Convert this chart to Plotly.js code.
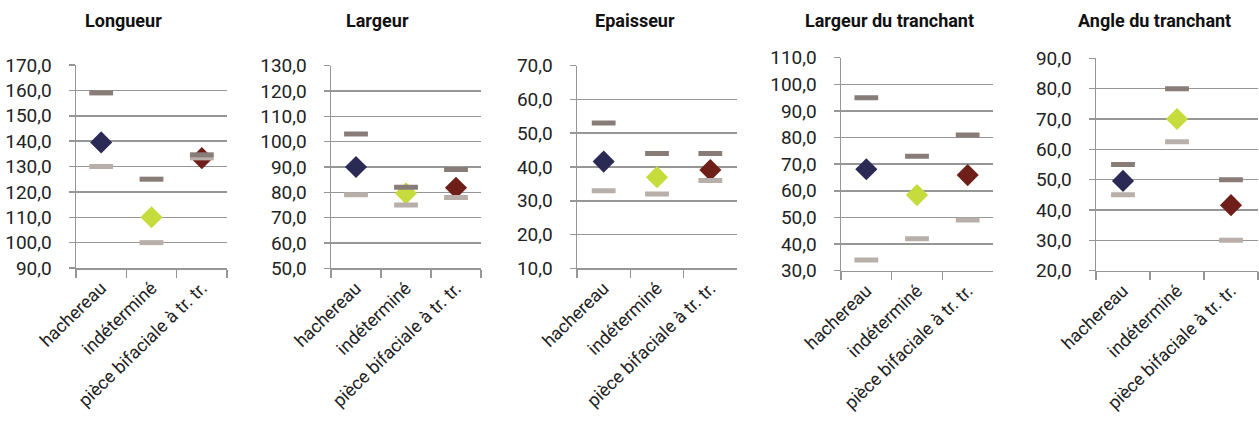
<!DOCTYPE html>
<html>
<head>
<meta charset="utf-8">
<script src="https://cdn.plot.ly/plotly-3.0.1.min.js"></script>
<style>html,body{margin:0;padding:0;background:#fff;}#chart{width:1259px;height:426px;}</style>
</head>
<body>
<div id="chart"></div>
<script>
const categories = ['hachereau', 'indéterminé', 'pièce bifaciale à tr. tr.'];
const panelTitles = ['Longueur', 'Largeur', 'Epaisseur', 'Largeur du tranchant', 'Angle du tranchant'];
const maxVals  = [[159, 125, 134.6], [103, 82, 89], [53, 44, 44], [95, 73, 81], [55, 80, 50]];
const meanVals = [[139.5, 110, 133.3], [90, 79.6, 81.8], [41.6, 37, 39.1], [68.1, 58.4, 65.9], [49.6, 70, 41.6]];
const minVals  = [[130, 100, 133.4], [79, 75, 78], [33, 32, 36], [34, 42, 49], [45, 62.5, 30]];
const yRanges  = [[90, 170], [50, 130], [10, 70], [30, 110], [20, 90]];
const meanColors = ['#2b2a55', '#c5dc3c', '#6e1f1a'];

// layout geometry in pixels
const W = 1259, H = 426;
const xPix = [[76, 227], [331, 481], [577, 737], [841, 993], [1096, 1258]];
const yPix = [[65, 268], [65.7, 268.3], [65.7, 268.3], [57.7, 270.7], [58.3, 270.7]];
const titleX = [123, 377, 635, 889, 1154];

const FONT = 'Roboto, "Liberation Sans", Arial, sans-serif';
const GRID = '#969696';

const data = [];
const layout = {
  width: W, height: H,
  margin: {l: 0, r: 0, t: 0, b: 0},
  paper_bgcolor: '#ffffff', plot_bgcolor: '#ffffff',
  showlegend: false,
  separators: ', ',
  font: {family: FONT, color: '#222222'},
  annotations: []
};

for (let i = 0; i < 5; i++) {
  const s = i === 0 ? '' : String(i + 1);
  const xa = 'x' + s, ya = 'y' + s;
  data.push({
    type: 'scatter', mode: 'markers', x: categories, y: meanVals[i], xaxis: xa, yaxis: ya,
    marker: {symbol: 'diamond', size: 17, color: meanColors, line: {width: 0}},
    hoverinfo: 'y'
  });
  data.push({
    type: 'scatter', mode: 'markers', x: categories, y: minVals[i], xaxis: xa, yaxis: ya,
    marker: {symbol: 'line-ew', size: 17, line: {width: 5, color: '#b8aeaa'}},
    hoverinfo: 'y'
  });
  data.push({
    type: 'scatter', mode: 'markers', x: categories, y: maxVals[i], xaxis: xa, yaxis: ya,
    marker: {symbol: 'line-ew', size: 17, line: {width: 5, color: '#877c78'}},
    hoverinfo: 'y'
  });
  layout['xaxis' + s] = {
    domain: [xPix[i][0] / W, xPix[i][1] / W],
    anchor: ya,
    type: 'category',
    range: [-0.5, 2.5],
    showgrid: false, zeroline: false,
    showline: true, linecolor: GRID, linewidth: 1.5,
    ticks: 'outside', tickson: 'boundaries', ticklen: 8, tickcolor: GRID, tickwidth: 1.5,
    tickangle: -44,
    ticklabelstandoff: 1,
    tickfont: {family: FONT, size: 18, color: '#222222'},
    fixedrange: true
  };
  layout['yaxis' + s] = {
    domain: [(H - yPix[i][1]) / H, (H - yPix[i][0]) / H],
    anchor: xa,
    range: yRanges[i],
    dtick: 10, tick0: 0,
    tickformat: '.1f',
    showgrid: true, gridcolor: GRID, gridwidth: 1.5,
    zeroline: false,
    showline: true, linecolor: GRID, linewidth: 1.5,
    ticks: 'outside', ticklen: 6, tickcolor: GRID, tickwidth: 1.5,
    ticklabelstandoff: 13,
    tickfont: {family: FONT, size: 19, color: '#222222'},
    fixedrange: true
  };
  layout.annotations.push({
    text: panelTitles[i], xref: 'paper', yref: 'paper',
    x: titleX[i] / W, y: (H - 20) / H, xanchor: 'center', yanchor: 'middle',
    showarrow: false,
    font: {family: FONT, size: 18, color: '#111111', weight: 'bold'}
  });
}

Plotly.newPlot('chart', data, layout, {displayModeBar: false, staticPlot: true});
</script>
</body>
</html>
